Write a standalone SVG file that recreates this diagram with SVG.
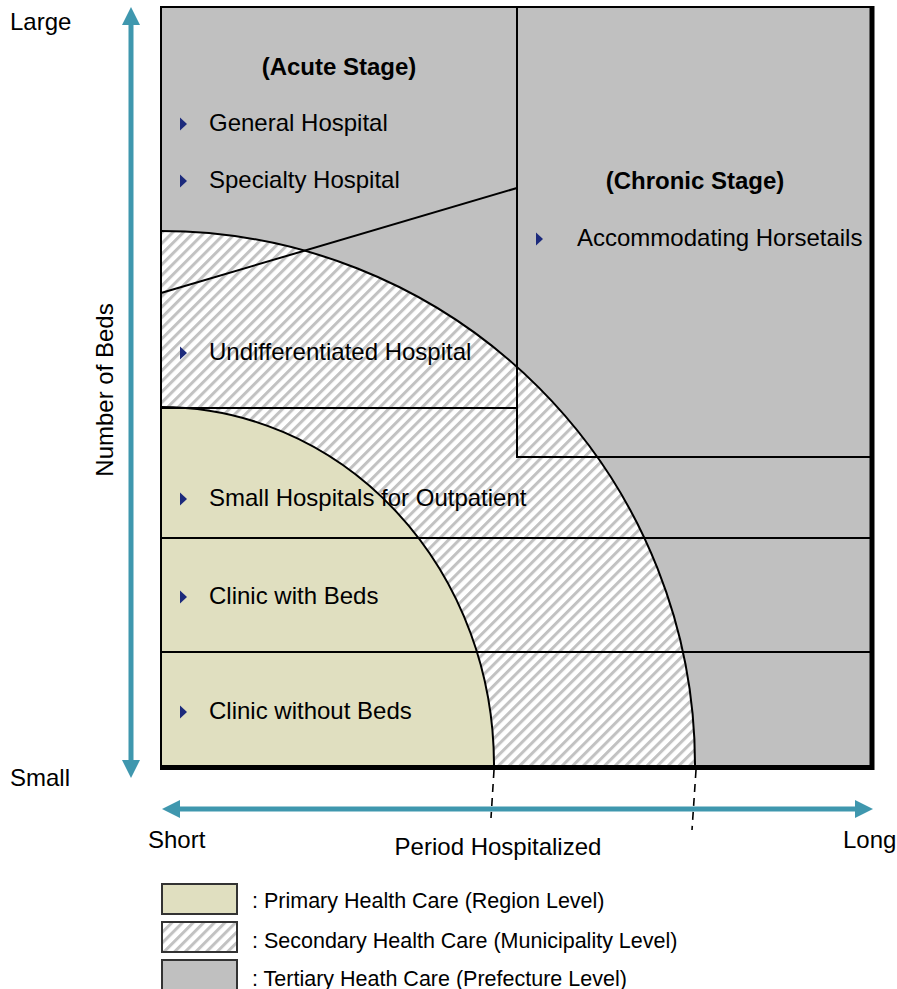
<svg xmlns="http://www.w3.org/2000/svg" width="897" height="989" viewBox="0 0 897 989">
  <style>
    text { font-family: "Liberation Sans", Arial, sans-serif; font-size: 24px; fill: #000; }
    .bold { font-weight: bold; }
    .legend { font-size: 21.5px; }
    .edge { fill: none; stroke: #000; stroke-width: 2; }
    .dash { fill: none; stroke: #000; stroke-width: 1.6; stroke-dasharray: 8 6; }
    .axis { fill: none; stroke: #3f97ae; stroke-width: 5; }
    .head { fill: #3f97ae; }
    .tertiary { fill: #c0c0c0; }
    .primary { fill: #e0dfc0; }
    .secondary { fill: url(#hatch); }
    .bullet { fill: #1c2a7c; }
    .key { stroke: #333; stroke-width: 2; }
  </style>
  <defs>
    <pattern id="hatch" patternUnits="userSpaceOnUse" width="7.5" height="7.5" patternTransform="rotate(45)">
      <rect width="7.5" height="7.5" fill="#fff"/>
      <rect width="3" height="7.5" fill="#c2c2c2"/>
    </pattern>
    <path id="tri" d="M0,-6.5 L7,0 L0,6.5 Z"/>
  </defs>

  <rect width="897" height="989" fill="#fff"/>

  <!-- care-level regions -->
  <g id="tertiary-region">
    <rect class="tertiary" x="161" y="7" width="709" height="758"/>
  </g>
  <g id="secondary-region">
    <path class="secondary" d="M161,765 L161,231 A534,534 0 0 1 695,765 Z"/>
  </g>
  <g id="primary-region">
    <path class="primary" d="M161,765 L161,407 A333,358 0 0 1 494,765 Z"/>
  </g>

  <!-- boundaries and dividers -->
  <g id="connectors">
    <path class="edge" d="M161,231 A534,534 0 0 1 695,765"/>
    <path class="edge" d="M161,407 A333,358 0 0 1 494,765"/>
    <line class="edge" x1="161" y1="293" x2="517" y2="188"/>
    <line class="edge" x1="161" y1="408" x2="517" y2="408"/>
    <polyline class="edge" points="517,7 517,457 870,457"/>
    <line class="edge" x1="161" y1="538" x2="870" y2="538"/>
    <line class="edge" x1="161" y1="652" x2="870" y2="652"/>
    <line class="dash" x1="494" y1="770" x2="491" y2="818"/>
    <line class="dash" x1="696" y1="770" x2="692" y2="830"/>
    <!-- frame -->
    <polyline fill="none" stroke="#000" stroke-width="2" points="161,767 161,7 872,7"/>
    <line stroke="#000" stroke-width="5" x1="872" y1="6" x2="872" y2="770"/>
    <line stroke="#000" stroke-width="5" x1="160" y1="767.5" x2="874" y2="767.5"/>
    <!-- axes -->
    <line class="axis" x1="131" y1="22" x2="131" y2="763"/>
    <polygon class="head" points="131,7 122,25 140,25"/>
    <polygon class="head" points="131,778 122,760 140,760"/>
    <line class="axis" x1="177" y1="809" x2="858" y2="809"/>
    <polygon class="head" points="162,809 180,800 180,818"/>
    <polygon class="head" points="873,809 855,800 855,818"/>
  </g>

  <!-- stage headings and facility labels -->
  <g id="acute-stage">
    <text class="bold" x="339" y="75" text-anchor="middle">(Acute Stage)</text>
    <use href="#tri" class="bullet" x="180" y="124"/>
    <text x="209" y="131">General Hospital</text>
    <use href="#tri" class="bullet" x="180" y="181"/>
    <text x="209" y="188">Specialty Hospital</text>
  </g>
  <g id="chronic-stage">
    <text class="bold" x="695" y="189" text-anchor="middle">(Chronic Stage)</text>
    <use href="#tri" class="bullet" x="536" y="239"/>
    <text x="577" y="246">Accommodating Horsetails</text>
  </g>
  <g id="undifferentiated">
    <use href="#tri" class="bullet" x="180" y="353"/>
    <text x="209" y="360">Undifferentiated Hospital</text>
  </g>
  <g id="small-hospitals">
    <use href="#tri" class="bullet" x="180" y="499"/>
    <text x="209" y="506">Small Hospitals for Outpatient</text>
  </g>
  <g id="clinic-with-beds">
    <use href="#tri" class="bullet" x="180" y="597"/>
    <text x="209" y="604">Clinic with Beds</text>
  </g>
  <g id="clinic-without-beds">
    <use href="#tri" class="bullet" x="180" y="712"/>
    <text x="209" y="719">Clinic without Beds</text>
  </g>

  <!-- axis labels -->
  <g id="axis-labels">
    <text x="10" y="30">Large</text>
    <text x="10" y="786">Small</text>
    <text transform="translate(113,390) rotate(-90)" text-anchor="middle">Number of Beds</text>
    <text x="148" y="848">Short</text>
    <text x="498" y="855" text-anchor="middle">Period Hospitalized</text>
    <text x="843" y="848">Long</text>
  </g>

  <!-- legend -->
  <g id="legend">
    <rect class="primary key" x="162" y="884" width="75" height="30"/>
    <text class="legend" x="252" y="908">: Primary Health Care (Region Level)</text>
    <rect class="secondary key" x="162" y="922" width="75" height="30"/>
    <text class="legend" x="252" y="948">: Secondary Health Care (Municipality Level)</text>
    <rect class="tertiary key" x="162" y="960" width="75" height="32"/>
    <text class="legend" x="252" y="986">: Tertiary Heath Care (Prefecture Level)</text>
  </g>
</svg>
